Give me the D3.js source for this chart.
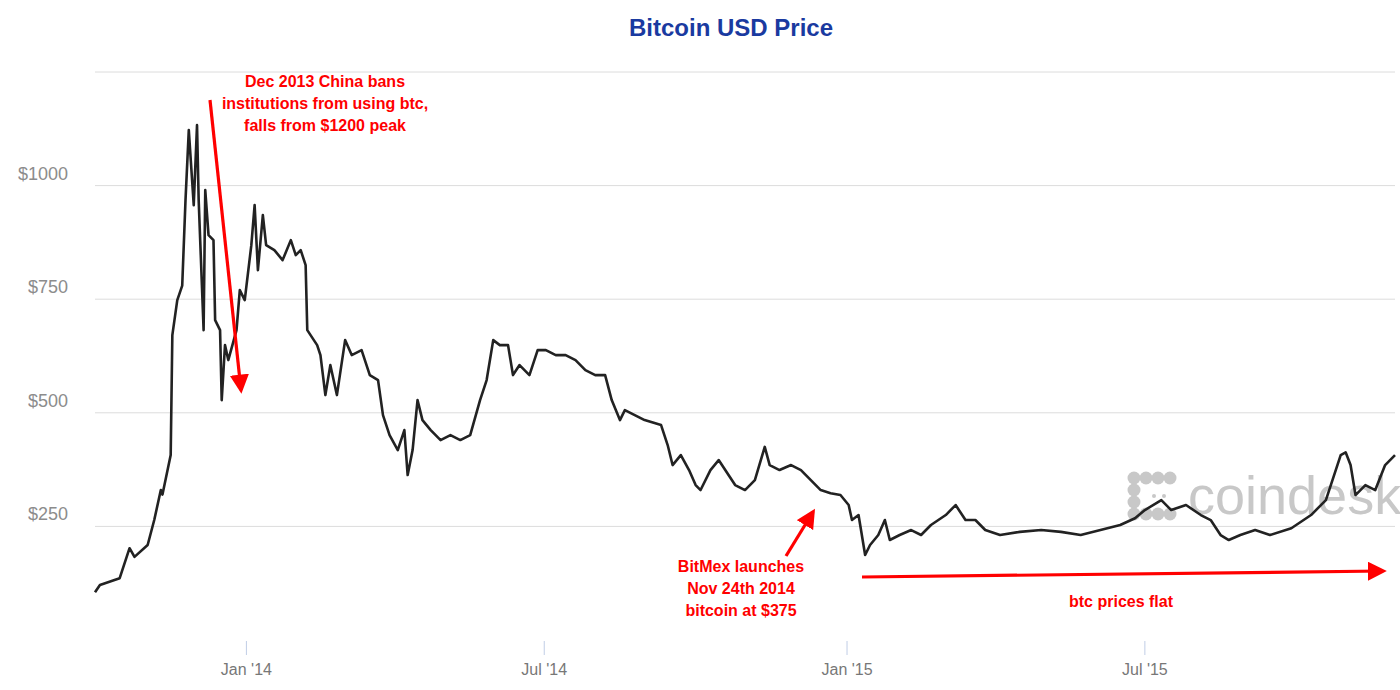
<!DOCTYPE html>
<html><head><meta charset="utf-8">
<script src="https://cdn.jsdelivr.net/npm/d3@7"></script>
<style>body{margin:0;background:#fff;font-family:"Liberation Sans",Arial,sans-serif;}</style>
</head><body><div id="chart"></div>
<script>
// days since 2013-10-01 and USD price
const days = [0,3,15,21,24,32,36,40,41,46,47,50,53,55,57,60,62,63,66,67,69,72,73,76,77,79,81,86,88,91,95,97,99,102,104,109,114,119,122,125,128,129,135,137,140,143,147,152,156,162,167,172,175,179,184,188,190,193,196,199,204,210,216,222,228,234,238,242,246,251,254,258,264,269,274,280,286,292,298,304,310,314,319,322,328,334,344,348,351,356,361,365,368,374,379,383,389,395,401,407,410,416,423,429,435,441,447,453,458,460,464,468,471,476,480,483,489,496,502,508,517,523,529,535,541,550,562,575,587,599,611,623,632,638,648,654,663,672,678,684,689,696,705,714,727,739,748,757,760,763,766,772,778,784,790];
const prices = [105,121,136,202,183,209,264,330,320,407,671,748,780,968,1122,957,1133,968,682,990,891,880,704,682,528,649,616,682,770,748,869,957,814,935,869,858,836,880,847,858,825,682,649,627,539,605,539,660,627,638,583,572,495,451,418,462,363,418,528,484,462,440,451,440,451,528,572,660,649,649,583,605,583,638,638,627,627,616,594,583,583,528,484,506,495,484,473,429,385,407,374,341,330,374,396,374,341,330,352,425,385,374,385,374,352,330,323,319,297,264,275,187,209,231,264,220,231,242,231,253,275,297,264,264,242,231,238,242,238,231,242,253,268,286,308,286,297,275,264,231,220,231,242,231,246,275,308,407,413,385,319,341,330,385,407];
const yTicks = [250,500,750,1000,1250];
const xTicks = [{d:"2014-01-01",label:"Jan '14"},{d:"2014-07-01",label:"Jul '14"},{d:"2015-01-01",label:"Jan '15"},{d:"2015-07-01",label:"Jul '15"}];
const chinaNote = ["Dec 2013 China bans","institutions from using btc,","falls from $1200 peak"];
const bitmexNote = ["BitMex launches","Nov 24th 2014","bitcoin at $375"];
const flatNote = ["btc prices flat"];

const W = 1400, H = 690;
const start = new Date(2013, 9, 1);
const svg = d3.select("#chart").append("svg").attr("width", W).attr("height", H);

const x = d3.scaleTime().domain([start, d3.timeDay.offset(start, 790)]).range([95, 1395]);
const y = d3.scaleLinear().domain([0, 1250]).range([640, 72]);
const data = days.map((d, i) => ({date: d3.timeDay.offset(start, d), v: prices[i]}));

svg.append("text").attr("x", 731).attr("y", 36).attr("text-anchor", "middle")
  .attr("font-size", 24).attr("font-weight", "bold").attr("fill", "#1a3aa0").text("Bitcoin USD Price");

// grid
svg.selectAll(".grid").data(yTicks).enter().append("line")
  .attr("x1", 95).attr("x2", 1395).attr("y1", d => y(d)).attr("y2", d => y(d))
  .attr("stroke", "#dcdcdc").attr("stroke-width", 1);
svg.selectAll(".ylab").data(yTicks.filter(d => d < 1250)).enter().append("text")
  .attr("x", 68).attr("y", d => y(d) - 6).attr("text-anchor", "end")
  .attr("font-size", 18).attr("fill", "#8c8c8c").text(d => "$" + d);

// x ticks
const parse = d3.timeParse("%Y-%m-%d");
const xt = svg.selectAll(".xt").data(xTicks).enter().append("g")
  .attr("transform", d => `translate(${x(parse(d.d))},0)`);
xt.append("line").attr("y1", 641).attr("y2", 655).attr("stroke", "#c0cde6");
xt.append("text").attr("y", 675).attr("text-anchor", "middle").attr("font-size", 16)
  .attr("fill", "#777").text(d => d.label);

// watermark
const wm = svg.append("g").attr("fill", "#c8c8c8");
[[1134,478],[1146,478],[1158,478],[1170,478],[1134,490],[1134,502],[1134,514],[1146,514],[1158,514],[1170,514]].forEach(p =>
  wm.append("circle").attr("cx", p[0]).attr("cy", p[1]).attr("r", 6.5));
wm.append("circle").attr("cx", 1154).attr("cy", 496).attr("r", 2);
wm.append("circle").attr("cx", 1164).attr("cy", 496).attr("r", 2);
wm.append("text").attr("x", 1188).attr("y", 514).attr("font-size", 54).attr("fill", "#c8c8c8").text("coindesk");

// price line
svg.append("path").datum(data)
  .attr("d", d3.line().x(d => x(d.date)).y(d => y(d.v)))
  .attr("fill", "none").attr("stroke", "#222").attr("stroke-width", 2.6).attr("stroke-linejoin", "round");

// annotations
const defs = svg.append("defs");
defs.append("marker").attr("id", "ah").attr("viewBox", "0 0 10 10").attr("refX", 8).attr("refY", 5)
  .attr("markerWidth", 6).attr("markerHeight", 6).attr("orient", "auto")
  .append("path").attr("d", "M0,0L10,5L0,10Z").attr("fill", "#f00");
function arrow(x1, y1, x2, y2) {
  svg.append("line").attr("x1", x1).attr("y1", y1).attr("x2", x2).attr("y2", y2)
    .attr("stroke", "#f00").attr("stroke-width", 3.2).attr("marker-end", "url(#ah)");
}
arrow(210, 100, 241, 390);
arrow(786, 556, 813, 512);
arrow(862, 577, 1383, 571);

function note(lines, cx, y0) {
  svg.append("g").selectAll("text").data(lines).enter().append("text")
    .attr("x", cx).attr("y", (d, i) => y0 + i * 22).attr("text-anchor", "middle")
    .attr("font-size", 16).attr("font-weight", "bold").attr("fill", "#f00").text(d => d);
}
note(chinaNote, 325, 87);
note(bitmexNote, 741, 572);
note(flatNote, 1121, 607);
</script></body></html>
